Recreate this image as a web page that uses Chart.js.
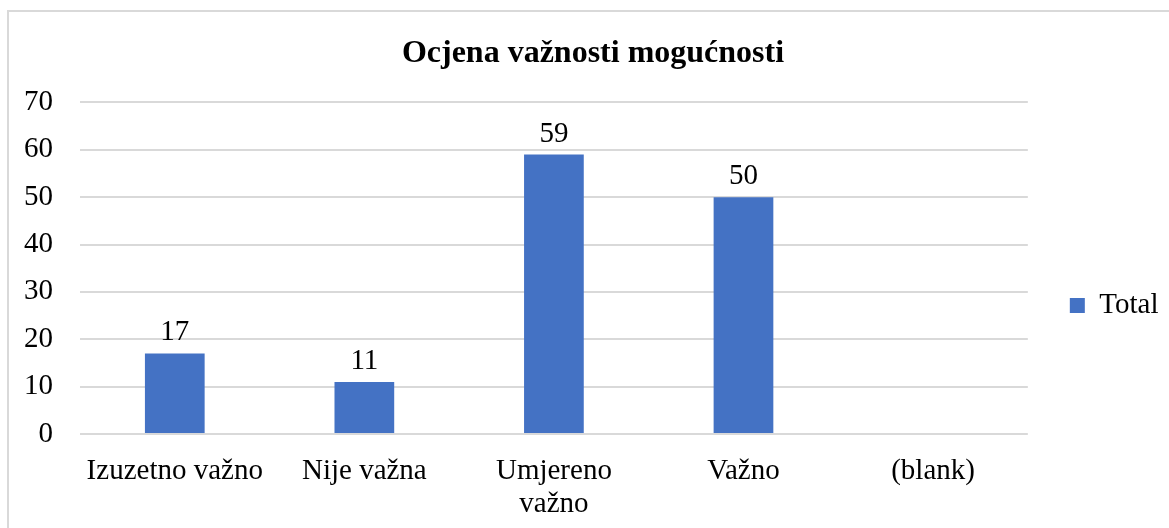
<!DOCTYPE html>
<html lang="hr">
<head>
<meta charset="UTF-8">
<title>Ocjena važnosti mogućnosti</title>
<script src="https://cdn.jsdelivr.net/npm/chart.js"></script>
<style>
    html, body {
        margin: 0;
        padding: 0;
        width: 1169px;
        height: 528px;
        overflow: hidden;
        background: #fff;
    }
    #frame {
        position: absolute;
        left: 7px;
        top: 10px;
        width: 1180px;
        height: 600px;
        border: 2px solid #d9d9d9;
    }
    #box {
        position: absolute;
        left: 8px;
        top: 11px;
        width: 1170px;
        height: 589px;
    }
</style>
</head>
<body>
<div id="frame"></div>
<div id="box"><canvas id="chart"></canvas></div>
<script>
    var categories = ["Izuzetno važno", "Nije važna", ["Umjereno", "važno"], "Važno", "(blank)"];
    var totals = [17, 11, 59, 50, null];
    var yTicks = [0, 10, 20, 30, 40, 50, 60, 70];

    var serif = "'Liberation Serif', 'Times New Roman', serif";

    // value labels above each bar
    var valueLabels = {
        id: 'valueLabels',
        afterDatasetsDraw: function (chart) {
            var ctx = chart.ctx;
            var meta = chart.getDatasetMeta(0);
            ctx.save();
            ctx.font = '29px ' + serif;
            ctx.fillStyle = '#000';
            ctx.textAlign = 'center';
            ctx.textBaseline = 'alphabetic';
            meta.data.forEach(function (bar, i) {
                if (totals[i] === null) return;
                ctx.fillText(String(totals[i]), bar.x, bar.y - 13);
            });
            ctx.restore();
        }
    };

    new Chart(document.getElementById('chart'), {
        type: 'bar',
        data: {
            labels: categories,
            datasets: [{
                label: 'Total',
                data: totals,
                backgroundColor: '#4472c4',
                borderWidth: 0,
                categoryPercentage: 1,
                barPercentage: 0.315
            }]
        },
        options: {
            responsive: true,
            maintainAspectRatio: false,
            animation: false,
            layout: { padding: { left: 9.5, right: 9.5, top: 0, bottom: 0 } },
            plugins: {
                title: {
                    display: true,
                    text: 'Ocjena važnosti mogućnosti',
                    color: '#000',
                    font: { family: serif, size: 32, weight: 'bold', lineHeight: 1.2 },
                    padding: { top: 24, bottom: 29 }
                },
                legend: {
                    position: 'right',
                    labels: {
                        color: '#000',
                        font: { family: serif, size: 29 },
                        boxWidth: 15,
                        boxHeight: 15,
                        padding: 42
                    }
                },
                tooltip: { enabled: false }
            },
            scales: {
                x: {
                    grid: { display: false },
                    border: { display: false },
                    ticks: {
                        color: '#000',
                        font: { family: serif, size: 29, lineHeight: 1.14 },
                        padding: 13,
                        maxRotation: 0,
                        autoSkip: false
                    },
                    afterFit: function (scale) { scale.height = 166; }
                },
                y: {
                    min: 0,
                    max: 70,
                    afterBuildTicks: function (scale) {
                        scale.ticks = yTicks.map(function (v) { return { value: v }; });
                    },
                    grid: { color: '#d9d9d9', lineWidth: 2, drawTicks: false },
                    border: { display: false },
                    ticks: {
                        color: '#000',
                        font: { family: serif, size: 29 },
                        padding: 27
                    },
                    afterFit: function (scale) { scale.width = 62.5; }
                }
            }
        },
        plugins: [valueLabels]
    });
</script>
</body>
</html>
